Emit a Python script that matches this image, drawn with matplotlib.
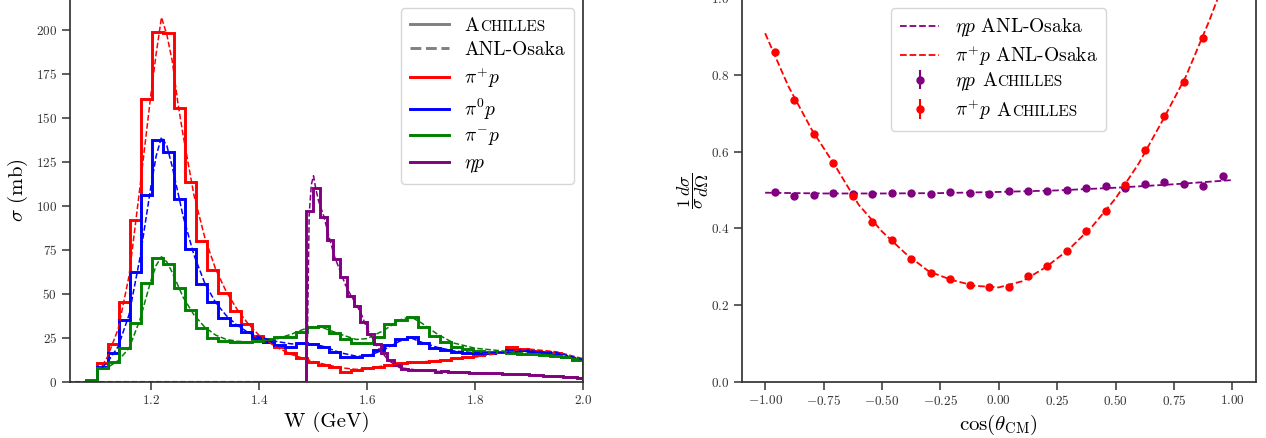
import numpy as np
import matplotlib
matplotlib.use("Agg")
import matplotlib.pyplot as plt
from matplotlib.lines import Line2D
from matplotlib.offsetbox import TextArea, HPacker

plt.rcParams.update({
    'font.family': 'serif',
    'font.serif': ['cmr10'],
    'mathtext.fontset': 'cm',
    'axes.formatter.use_mathtext': True,
    'axes.unicode_minus': True,
})

# ---------------- left panel data ----------------
W_MIN, W_MAX, N_BINS = 1.08, 2.0, 45
ETA_MIN, ETA_MAX, ETA_BINS = 1.40, 2.0, 48

pip_hist = [0.5, 10.4, 21.4, 45.3, 91.9, 160.8, 198.7, 197.9, 155.3, 113.6,
            80.1, 63.5, 50.2, 40.0, 32.7, 25.8, 22.7, 19.5, 16.1, 13.3,
            11.2, 9.5, 8.5, 5.7, 6.8, 7.6, 8.5, 9.5, 10.4, 11.0,
            11.4, 12.0, 12.3, 13.3, 14.2, 15.2, 16.1, 17.0, 20.0, 18.6,
            17.6, 17.0, 16.1, 14.2, 12.3]
pi0p_hist = [0.5, 8.5, 16.1, 35.0, 62.2, 106.0, 137.3, 130.7, 104.0, 75.5,
             55.7, 45.4, 36.2, 32.0, 28.2, 25.0, 22.7, 20.9, 19.9, 21.8,
             21.5, 19.9, 17.0, 14.2, 14.1, 15.2, 18.0, 20.9, 24.5, 25.2,
             21.8, 19.0, 18.0, 17.0, 16.1, 16.1, 16.5, 17.0, 18.0, 18.0,
             17.0, 16.1, 15.2, 14.0, 12.7]
pim_hist = [0.8, 8.0, 11.4, 19.0, 33.2, 55.9, 70.1, 66.9, 53.5, 40.9,
            30.3, 24.7, 23.3, 22.7, 22.7, 23.3, 24.1, 25.2, 25.6, 28.4,
            31.0, 31.6, 27.9, 24.1, 21.8, 22.2, 25.4, 32.7, 35.0, 37.0,
            31.3, 26.0, 22.3, 19.5, 18.4, 17.6, 17.0, 17.0, 16.1, 15.6,
            15.6, 15.2, 14.7, 14.0, 12.7]
etap_hist = [0, 0, 0, 0, 0, 0, 0, 97.2, 110.3, 93.6,
             80.3, 69.8, 59.5, 48.5, 42.8, 34.1, 27.1, 21.4, 16.5, 12.3,
             9.5, 7.0, 6.6, 6.6, 6.8, 6.5, 5.8, 5.9, 5.6, 5.5,
             5.4, 5.2, 5.1, 5.0, 4.9, 5.0, 4.6, 4.4, 4.2, 4.1,
             3.9, 3.6, 3.4, 3.2, 3.0, 2.7, 2.4, 2.1]

anl_W = [1.11, 1.12, 1.14, 1.16, 1.18, 1.20, 1.21, 1.22, 1.23, 1.24,
         1.25, 1.26, 1.28, 1.30, 1.32, 1.34, 1.36, 1.38, 1.40, 1.43,
         1.46, 1.48, 1.50, 1.52, 1.55, 1.58, 1.60, 1.63, 1.66, 1.68,
         1.70, 1.73, 1.76, 1.80, 1.85, 1.90, 1.95, 2.00]
anl_pip = [9, 14, 30, 60, 110, 162, 186, 207, 197, 182,
           159, 140, 106, 82, 64, 51, 41, 33, 26.5, 20,
           15.5, 13.5, 11.5, 10, 8, 7, 7.5, 9, 10, 10.8,
           11.2, 12, 12.8, 14, 16.5, 18.5, 17, 13]
anl_pi0p = [8, 11, 20, 38, 70, 110, 128, 139, 134, 122,
            108, 94, 72, 56, 45, 37.5, 32, 28, 25.5, 23,
            21.5, 21.5, 21.5, 20, 16.5, 14.5, 14.5, 18, 23, 25,
            22.5, 19.5, 17.5, 16.5, 16.5, 17.5, 16.5, 12.5]
anl_pim = [7, 8, 12, 19, 35, 57, 66, 71, 68, 62,
           55, 48, 38, 31, 26.5, 24, 23, 22.5, 22.8, 24,
           27, 29.5, 31.5, 30.5, 27, 24, 24.5, 29, 35, 37,
           33.5, 27, 22, 19, 17.5, 16, 15, 12.5]
anl_eta_W = [1.00, 1.488, 1.490, 1.493, 1.497, 1.501, 1.505, 1.51, 1.52, 1.53,
             1.54, 1.55, 1.56, 1.57, 1.58, 1.59, 1.60, 1.62, 1.64, 1.66,
             1.70, 1.75, 1.80, 1.85, 1.90, 1.95, 2.00]
anl_etap = [0, 0, 30, 95, 112, 117, 110, 103, 94, 82,
            71, 63, 55, 49, 44, 38, 30, 19.5, 12, 8,
            6.3, 5.6, 5.0, 4.4, 3.8, 3.0, 2.2]

# ---------------- right panel data ----------------
cos_centers = [-0.958, -0.875, -0.792, -0.708, -0.625, -0.542, -0.458, -0.375,
               -0.292, -0.208, -0.125, -0.042, 0.042, 0.125, 0.208, 0.292,
               0.375, 0.458, 0.542, 0.625, 0.708, 0.792, 0.875, 0.958]
eta_dist = [0.494, 0.484, 0.487, 0.492, 0.490, 0.490, 0.492, 0.493,
            0.489, 0.494, 0.491, 0.490, 0.497, 0.497, 0.497, 0.501,
            0.505, 0.510, 0.506, 0.515, 0.521, 0.516, 0.511, 0.537]
eta_err = [0.006, 0.006, 0.006, 0.006, 0.006, 0.006, 0.006, 0.006,
           0.006, 0.006, 0.006, 0.006, 0.006, 0.006, 0.006, 0.006,
           0.006, 0.006, 0.006, 0.006, 0.006, 0.006, 0.006, 0.006]
pip_dist = [0.859, 0.734, 0.647, 0.571, 0.484, 0.417, 0.369, 0.321,
            0.283, 0.267, 0.252, 0.248, 0.248, 0.276, 0.301, 0.341,
            0.392, 0.446, 0.513, 0.604, 0.693, 0.783, 0.897, 1.03]
pip_err = [0.005, 0.005, 0.005, 0.005, 0.005, 0.005, 0.005, 0.005,
           0.005, 0.005, 0.005, 0.005, 0.005, 0.005, 0.005, 0.005,
           0.005, 0.005, 0.005, 0.005, 0.005, 0.005, 0.005, 0.005]

anl_cos = [-1.0, -0.9, -0.8, -0.7, -0.6, -0.5, -0.4, -0.3, -0.2, -0.1, 0.0,
           0.1, 0.2, 0.3, 0.4, 0.5, 0.6, 0.7, 0.8, 0.9, 1.0]
anl_pip_dist = [0.909, 0.770, 0.657, 0.563, 0.462, 0.392, 0.335, 0.288, 0.265,
                0.250, 0.246, 0.262, 0.298, 0.345, 0.405, 0.478, 0.570, 0.680,
                0.795, 0.940, 1.100]
anl_eta_cos = [-1.0, -0.75, -0.5, -0.25, 0.0, 0.25, 0.5, 0.75, 1.0]
anl_eta_dist = [0.493, 0.491, 0.491, 0.492, 0.495, 0.499, 0.506, 0.515, 0.526]

# ---------------- figure ----------------
fig = plt.figure(figsize=(12.66, 4.38), dpi=100)
axL = fig.add_axes([0.0549, 0.1285, 0.406, 0.8753])
axR = fig.add_axes([0.5859, 0.1285, 0.406, 0.8753])

spine_c = '0.2'
for ax in (axL, axR):
    for s in ax.spines.values():
        s.set_color(spine_c)
        s.set_linewidth(1.25)
    ax.tick_params(colors=spine_c, labelsize=9.5, length=5.5, width=1.1,
                   labelcolor='0.2')

edges = np.linspace(W_MIN, W_MAX, N_BINS + 1)
eta_edges = np.linspace(ETA_MIN, ETA_MAX, ETA_BINS + 1)

lw_h = 2.1
lw_d = 1.1
axL.stairs(pip_hist, edges, color='red', lw=lw_h)
axL.plot(anl_W, anl_pip, color='red', ls='--', lw=lw_d)
axL.stairs(pi0p_hist, edges, color='blue', lw=lw_h)
axL.plot(anl_W, anl_pi0p, color='blue', ls='--', lw=lw_d)
axL.stairs(pim_hist, edges, color='green', lw=lw_h)
axL.plot(anl_W, anl_pim, color='green', ls='--', lw=lw_d)
axL.stairs(etap_hist, eta_edges, color='purple', lw=lw_h)
axL.plot(anl_eta_W, anl_etap, color='purple', ls='--', lw=lw_d)

axL.set_xlim(1.05, 2.0)
axL.set_ylim(0, 217.8)
axL.set_xticks([1.2, 1.4, 1.6, 1.8, 2.0])
axL.set_yticks([0, 25, 50, 75, 100, 125, 150, 175, 200])
axL.set_xlabel('W (GeV)', fontsize=15, labelpad=3)
axL.set_ylabel(r'$\sigma$ (mb)', fontsize=15)

handles = [
    Line2D([], [], color='gray', lw=2.1, ls='-'),
    Line2D([], [], color='gray', lw=2.1, ls='--'),
    Line2D([], [], color='red', lw=2.1),
    Line2D([], [], color='blue', lw=2.1),
    Line2D([], [], color='green', lw=2.1),
    Line2D([], [], color='purple', lw=2.1),
]
labels = ['Achilles', 'ANL-Osaka', r'$\pi^{+}p$', r'$\pi^{0}p$', r'$\pi^{-}p$', r'$\eta p$']
legL = axL.legend(handles, labels, loc='upper right', fontsize=14,
                  labelspacing=0.33, borderpad=0.45)

# right panel
axR.plot(anl_eta_cos, anl_eta_dist, color='purple', ls='--', lw=1.3,
         label=r'$\eta p$ ANL-Osaka')
axR.plot(anl_cos, anl_pip_dist, color='red', ls='--', lw=1.3,
         label=r'$\pi^{+}p$ ANL-Osaka')
axR.errorbar(cos_centers, eta_dist, yerr=eta_err, fmt='o', color='purple',
             ms=5, elinewidth=1.5, label=r'$\eta p$ Achilles')
axR.errorbar(cos_centers, pip_dist, yerr=pip_err, fmt='o', color='red',
             ms=5, elinewidth=1.5, label=r'$\pi^{+}p$ Achilles')
axR.set_xlim(-1.1, 1.1)
axR.set_ylim(0, 1.0)
axR.set_xticks([-1.0, -0.75, -0.5, -0.25, 0.0, 0.25, 0.5, 0.75, 1.0])
axR.set_yticks([0.0, 0.2, 0.4, 0.6, 0.8, 1.0])
axR.set_xlabel(r'$\cos(\theta_{\rm CM})$', fontsize=15, labelpad=3)
axR.set_ylabel(r'$\dfrac{1}{\sigma}\dfrac{d\sigma}{d\Omega}$', fontsize=13,
               labelpad=0)
legR = axR.legend(loc='upper center', fontsize=14, labelspacing=0.22,
                  borderpad=0.45)


def small_caps(leg, fs):
    """Render the word 'Achilles' in small capitals inside a legend."""
    for col in leg._legend_handle_box.get_children():
        for row in col.get_children():
            kids = row.get_children()
            for i, k in enumerate(kids):
                if isinstance(k, TextArea) and 'Achilles' in k.get_text():
                    txt = k.get_text()
                    pre = txt.replace('Achilles', '').strip()
                    col_ = k._text.get_color()
                    word = HPacker(children=[
                        TextArea('A', textprops=dict(fontsize=fs, color=col_)),
                        TextArea('CHILLES', textprops=dict(fontsize=fs * 0.78, color=col_)),
                    ], align='baseline', pad=0, sep=0.6)
                    if pre:
                        box = HPacker(children=[
                            TextArea(pre, textprops=dict(fontsize=fs, color=col_)),
                            word], align='baseline', pad=0, sep=4.5)
                    else:
                        box = word
                    kids[i] = box
    leg._legend_box.set_figure(leg.get_figure())


small_caps(legL, 14)
small_caps(legR, 14)

fig.savefig('out.png', dpi=100)
